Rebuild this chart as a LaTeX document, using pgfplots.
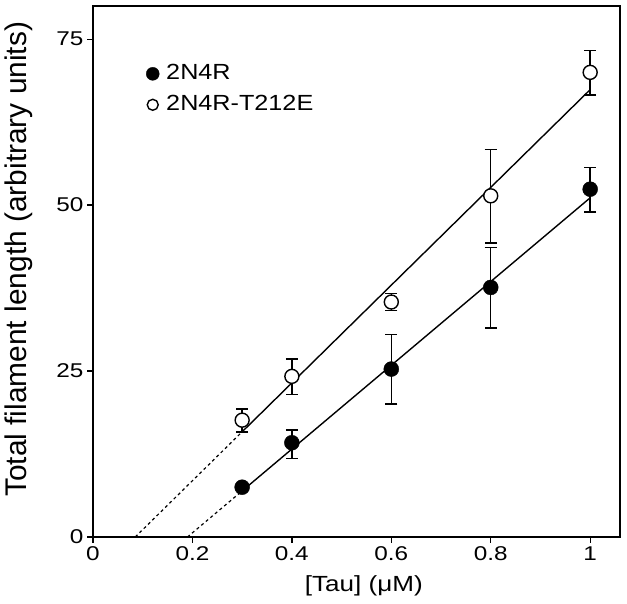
\documentclass[border=0pt]{standalone}
\usepackage{fontspec}
\setmainfont{Liberation Sans}
\newfontfamily\tickfont{Liberation Sans}[FakeStretch=1.22]
\newfontfamily\xlabfont{Liberation Sans}[FakeStretch=1.19]
\newfontfamily\legfont{Liberation Sans}[FakeStretch=1.15]
\usepackage{pgfplots}
\pgfplotsset{compat=1.18}
\begin{document}
\begin{tikzpicture}
\begin{axis}[
  scale only axis,
  width=527bp, height=531bp,
  xmin=0, xmax=1.06, ymin=0, ymax=80,
  axis line style={line width=1.5bp},
  xtick={0,0.2,0.4,0.6,0.8,1},
  ytick={0,25,50,75},
  tick pos=left,
  tick align=outside,
  major tick length=6bp,
  tick style={line width=1.3bp, black},
  /pgf/number format/assume math mode=true,
  ticklabel style={font=\tickfont\fontsize{20}{22}\selectfont},
  xlabel={[Tau] (μM)},
  ylabel={Total filament length (arbitrary units)},
  every axis x label/.style={at={(rel axis cs:0.514,-0.092)}, anchor=center, font=\xlabfont\fontsize{22}{24}\selectfont},
  every axis y label/.style={at={(rel axis cs:-0.1404,0.523)}, anchor=center, rotate=90, font=\fontsize{30}{32}\selectfont},
  legend style={draw=none, fill=none, at={(0.095,0.899)}, anchor=north west, font=\legfont\fontsize{22}{24}\selectfont,
    row sep=7bp, nodes={text height=16bp, text depth=4bp}},
  legend cell align=left,
  execute at end axis={\coordinate (bl) at (rel axis cs:0,0); \coordinate (tr) at (rel axis cs:1,1);},
]
% fitted lines
\addplot[black, line width=1.2bp, dash pattern=on 3bp off 3bp, forget plot] coordinates {(0.19,0) (0.3,6.94)};
\addplot[black, line width=1.4bp, forget plot] coordinates {(0.3,6.94) (1,51.1)};
\addplot[black, line width=1.2bp, dash pattern=on 3bp off 3bp, forget plot] coordinates {(0.085,0) (0.3,15.85)};
\addplot[black, line width=1.4bp, forget plot] coordinates {(0.3,15.85) (1,67.4)};
% data
\addplot[only marks, mark=*, mark size=7.5bp, mark options={fill=black, draw=black},
  legend image post style={mark size=6.5bp},
  error bars/.cd, y dir=both, y explicit,
  error bar style={line width=1.5bp, black},
  error mark options={rotate=90, mark size=6bp, line width=1.5bp, black}]
  table[x=x, y=y, y error plus=ep, y error minus=em] {
x y ep em
0.3 7.5 0.5 0.5
0.4 14.2 1.9 2.4
0.6 25.3 5.2 5.3
0.8 37.6 6.0 6.1
1.0 52.4 3.3 3.4
};
\addlegendentry{\hspace{5bp}2N4R}
\addplot[only marks, mark=*, mark size=7bp, mark options={fill=white, draw=black, line width=1.4bp},
  legend image post style={mark size=5.5bp, line width=1.3bp},
  error bars/.cd, y dir=both, y explicit,
  error bar style={line width=1.5bp, black},
  error mark options={rotate=90, mark size=6bp, line width=1.5bp, black}]
  table[x=x, y=y, y error plus=ep, y error minus=em] {
x y ep em
0.3 17.6 1.7 1.8
0.4 24.2 2.6 2.7
0.6 35.4 1.3 1.3
0.8 51.4 7.0 7.1
1.0 70.0 3.3 3.4
};
\addlegendentry{\hspace{5bp}2N4R-T212E}
\end{axis}
\pgfresetboundingbox
\path ([shift={(-93bp,-67bp)}]bl) rectangle ([shift={(7bp,6bp)}]tr);
\end{tikzpicture}
\end{document}
